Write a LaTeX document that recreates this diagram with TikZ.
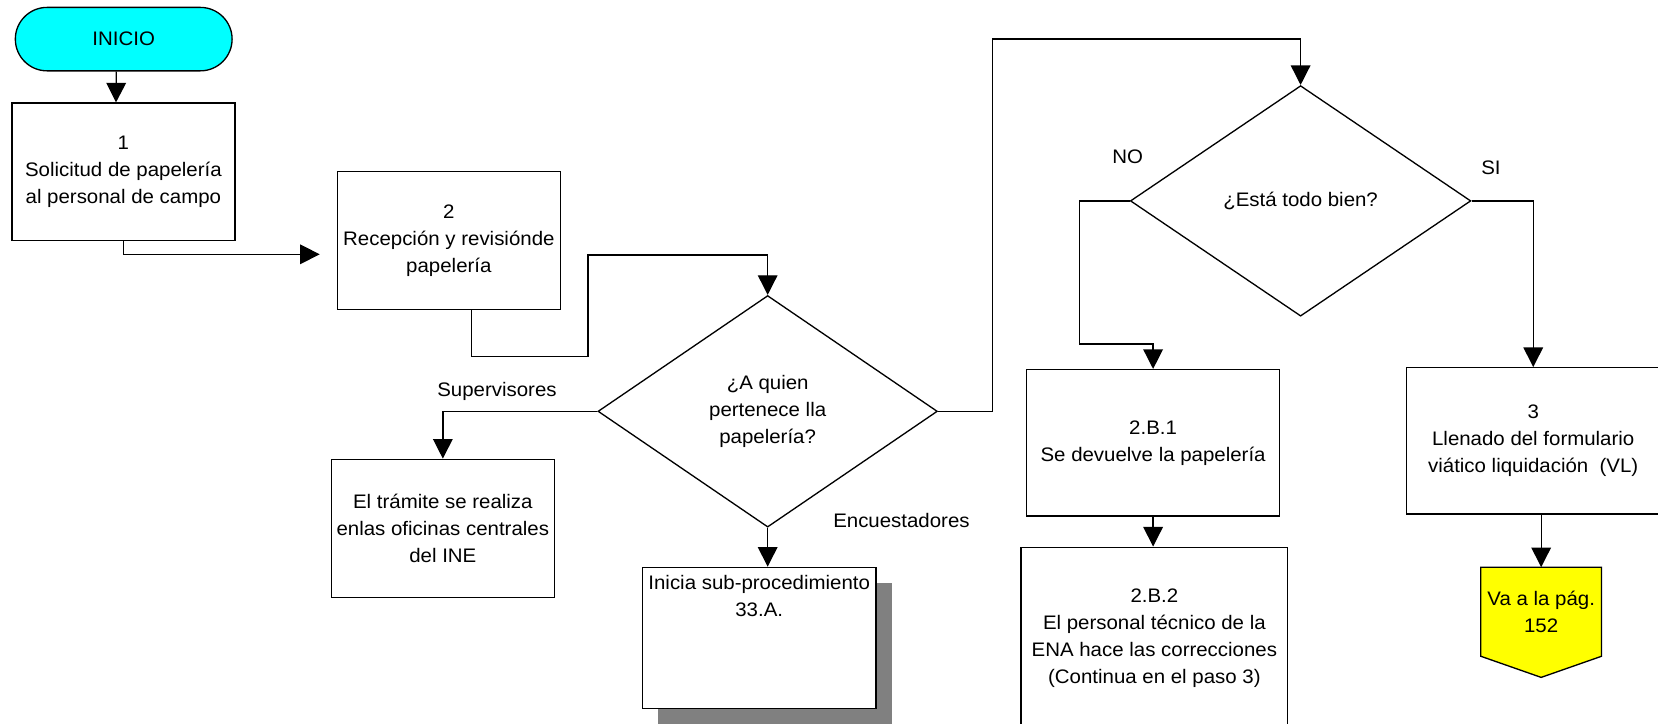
\documentclass[tikz,border=0pt]{standalone}
\usepackage{fontspec}
\setmainfont[FakeStretch=1.045]{Liberation Sans}
\usetikzlibrary{shapes.geometric,arrows.meta,shadows,calc}

\definecolor{termcyan}{RGB}{0,255,255}
\definecolor{pageyellow}{RGB}{255,255,0}
\definecolor{shadowgray}{RGB}{128,128,128}

\begin{document}
\begin{tikzpicture}[x=1pt,y=-1pt,
  font=\fontsize{18.5}{25.5}\selectfont,
  line width=1.25pt,
  every node/.style={inner sep=0pt, align=center},
  procbox/.style={draw, rectangle, line width=1.25pt},
  decision/.style={draw, diamond, line width=1.25pt},
  arr/.style={-{Triangle[length=18.5pt,width=18.5pt]}, line width=1.25pt},
  lbl/.style={anchor=base}
]
\useasboundingbox (0,0) rectangle (1568,684);
\clip (0,0) rectangle (1568,684);

% start terminal
\node[draw, fill=termcyan, rounded corners=30pt, minimum width=205pt, minimum height=60pt] (inicio) at (117,37) {INICIO};

% process steps
\node[procbox, minimum width=211pt, minimum height=130pt] (b1) at (116.7,162.5) {1\\Solicitud de papelería\\al personal de campo};
\node[procbox, minimum width=211pt, minimum height=130pt] (b2) at (424.5,227.5) {2\\Recepción y revisiónde\\papelería};

% first decision
\node[decision, minimum width=321pt, minimum height=219pt] (d1) at (726,389) {¿A quien\\pertenece lla\\papelería?};

\node[procbox, minimum width=211pt, minimum height=130.5pt] (sup) at (418.8,499.6) {El trámite se realiza\\enlas oficinas centrales\\del INE};

% sub-procedure box with drop shadow, text at the top
\node[procbox, fill=white, minimum width=221pt, minimum height=133.5pt,
      drop shadow={shadow xshift=15pt, shadow yshift=-15pt, fill=shadowgray, opacity=1}] (sub) at (718,603.3) {};
\node[anchor=north] (subtext) at ([yshift=-8pt]sub.north) {Inicia sub-procedimiento\\33.A.};

% second decision
\node[decision, minimum width=322pt, minimum height=218pt] (d2) at (1230,190) {¿Está todo bien?};

\node[procbox, minimum width=239pt, minimum height=138.5pt] (b21) at (1090.5,418.8) {2.B.1\\Se devuelve la papelería};
\node[procbox, minimum width=252pt, minimum height=172.5pt] (b22) at (1091.7,603.75) {2.B.2\\El personal técnico de la\\ENA hace las correcciones\\(Continua en el paso 3)};
\node[procbox, minimum width=240pt, minimum height=138.3pt] (b3) at (1450,416.9) {3\\Llenado del formulario\\viático liquidación\ \ (VL)};

% off-page connector
\node[minimum width=113pt, minimum height=83pt] (off) at (1457.5,578.5) {};
\draw[fill=pageyellow] (off.north west) -- (off.north east) -- (off.south east)
  -- ($(off.south)+(0,20)$) -- (off.south west) -- cycle;
\node (offtext) at (off.center) {Va a la pág.\\152};

% branch labels
\node[lbl] (lsup) at (470,375) {Supervisores};
\node[lbl] (lenc) at (852.5,499) {Encuestadores};
\node[lbl] (lno) at (1066.5,155) {NO};
\node[lbl] (lsi) at (1410,164.6) {SI};

% bend points
\coordinate (j1) at (556,337.3);
\coordinate (j2) at (556,241.2);
\coordinate (j3) at (938.6,36.9);
\coordinate (j4) at (1020.7,325.3);

% connectors
\draw[arr] ([xshift=-7pt]inicio.south) -- ([xshift=-7pt]b1.north);
\draw[arr, shorten >=16pt] (b1.south) |- ([yshift=-13pt]b2.west);
\draw[arr] ([xshift=21.5pt]b2.south) |- (j1) -- (j2) -| (d1.north);
\draw[arr] (d1.west) -| (sup.north);
\draw[arr] (d1.south) -- (d1.south |- sub.north);
\draw[arr] (d1.east) -| (j3) -| (d2.north);
\draw[arr] (d2.west) -| (j4) -| (b21.north);
\draw[arr] (d2.east) -| (b3.north);
\draw[arr] (b21.south) -- (b21.south |- b22.north);
\draw[arr] (off.north |- b3.south) -- (off.north);
\end{tikzpicture}
\end{document}
